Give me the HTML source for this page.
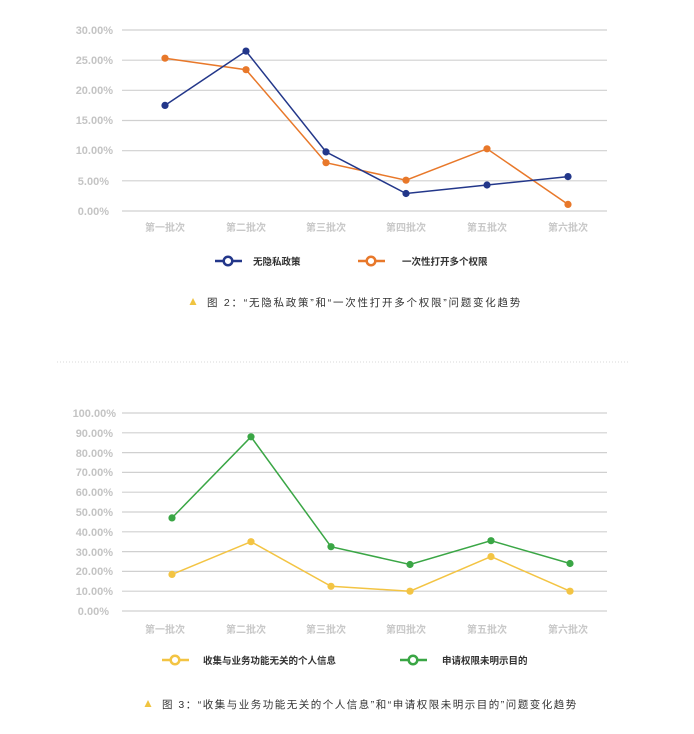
<!DOCTYPE html>
<html><head><meta charset="utf-8"><style>
html,body{margin:0;padding:0;background:#fff;}
svg{display:block;font-family:"Liberation Sans","Noto Sans CJK SC",sans-serif;}
</style></head><body>
<svg width="694" height="734" viewBox="0 0 694 734" xmlns="http://www.w3.org/2000/svg">
<g stroke="#d0d0d0" stroke-width="1.2">
<line x1="122" y1="30" x2="607" y2="30"/><line x1="122" y1="60.2" x2="607" y2="60.2"/>
<line x1="122" y1="90.3" x2="607" y2="90.3"/><line x1="122" y1="120.5" x2="607" y2="120.5"/>
<line x1="122" y1="150.7" x2="607" y2="150.7"/><line x1="122" y1="180.8" x2="607" y2="180.8"/>
<line x1="122" y1="211" x2="607" y2="211"/>
</g>
<g font-size="11" font-weight="bold" fill="#c4c4c4" text-anchor="end">
<text x="113" y="34">30.00%</text><text x="113" y="64">25.00%</text><text x="113" y="94">20.00%</text>
<text x="113" y="124">15.00%</text><text x="113" y="154">10.00%</text><text x="109" y="185">5.00%</text>
<text x="109" y="215">0.00%</text>
</g>
<g font-size="10" font-weight="bold" fill="#c8c8c8" text-anchor="middle">
<text x="165" y="231">第一批次</text><text x="246" y="231">第二批次</text><text x="326" y="231">第三批次</text>
<text x="406" y="231">第四批次</text><text x="487" y="231">第五批次</text><text x="568" y="231">第六批次</text>
</g>
<polyline fill="none" stroke="#e8782a" stroke-width="1.5" points="165,58.2 246,69.7 326,162.7 406,180.2 487,148.8 568,204.4"/>
<polyline fill="none" stroke="#23378a" stroke-width="1.5" points="165,105.4 246,51.1 326,151.9 406,193.5 487,185 568,176.6"/>
<g fill="#e8782a"><circle cx="165" cy="58.2" r="3.6"/><circle cx="246" cy="69.7" r="3.6"/><circle cx="326" cy="162.7" r="3.6"/><circle cx="406" cy="180.2" r="3.6"/><circle cx="487" cy="148.8" r="3.6"/><circle cx="568" cy="204.4" r="3.6"/></g>
<g fill="#23378a"><circle cx="165" cy="105.4" r="3.6"/><circle cx="246" cy="51.1" r="3.6"/><circle cx="326" cy="151.9" r="3.6"/><circle cx="406" cy="193.5" r="3.6"/><circle cx="487" cy="185" r="3.6"/><circle cx="568" cy="176.6" r="3.6"/></g>
<line x1="215" y1="261" x2="242" y2="261" stroke="#23378a" stroke-width="2.5"/>
<circle cx="228" cy="261" r="4.3" fill="#fff" stroke="#23378a" stroke-width="2.5"/>
<text x="253" y="265" font-size="9.5" font-weight="bold" fill="#333">无隐私政策</text>
<line x1="358" y1="261" x2="385" y2="261" stroke="#e8782a" stroke-width="2.5"/>
<circle cx="371" cy="261" r="4.3" fill="#fff" stroke="#e8782a" stroke-width="2.5"/>
<text x="402" y="265" font-size="9.5" font-weight="bold" fill="#333">一次性打开多个权限</text>
<polygon points="193,298 189.5,305 196.5,305" fill="#f0c440"/>
<text x="207" y="306" font-size="10.5" fill="#333" letter-spacing="1.75">图 2：“无隐私政策”和“一次性打开多个权限”问题变化趋势</text>

<line x1="57" y1="362" x2="630" y2="362" stroke="#d8d8d8" stroke-width="1" stroke-dasharray="1,2"/>

<g stroke="#d0d0d0" stroke-width="1.2">
<line x1="122" y1="413" x2="607" y2="413"/><line x1="122" y1="432.8" x2="607" y2="432.8"/>
<line x1="122" y1="452.6" x2="607" y2="452.6"/><line x1="122" y1="472.4" x2="607" y2="472.4"/>
<line x1="122" y1="492.2" x2="607" y2="492.2"/><line x1="122" y1="512" x2="607" y2="512"/>
<line x1="122" y1="531.8" x2="607" y2="531.8"/><line x1="122" y1="551.6" x2="607" y2="551.6"/>
<line x1="122" y1="571.4" x2="607" y2="571.4"/><line x1="122" y1="591.2" x2="607" y2="591.2"/>
<line x1="122" y1="611" x2="607" y2="611"/>
</g>
<g font-size="11" font-weight="bold" fill="#c4c4c4" text-anchor="end">
<text x="116" y="417">100.00%</text><text x="113" y="437">90.00%</text><text x="113" y="457">80.00%</text>
<text x="113" y="476">70.00%</text><text x="113" y="496">60.00%</text><text x="113" y="516">50.00%</text>
<text x="113" y="536">40.00%</text><text x="113" y="556">30.00%</text><text x="113" y="575">20.00%</text>
<text x="113" y="595">10.00%</text><text x="109" y="615">0.00%</text>
</g>
<g font-size="10" font-weight="bold" fill="#c8c8c8" text-anchor="middle">
<text x="165" y="633">第一批次</text><text x="246" y="633">第二批次</text><text x="326" y="633">第三批次</text>
<text x="406" y="633">第四批次</text><text x="487" y="633">第五批次</text><text x="568" y="633">第六批次</text>
</g>
<polyline fill="none" stroke="#f3c443" stroke-width="1.5" points="172,574.4 251,541.7 331,586.3 410,591.2 491,556.6 570,591.2"/>
<polyline fill="none" stroke="#3aa645" stroke-width="1.5" points="172,517.9 251,436.8 331,546.7 410,564.5 491,540.7 570,563.5"/>
<g fill="#f3c443"><circle cx="172" cy="574.4" r="3.6"/><circle cx="251" cy="541.7" r="3.6"/><circle cx="331" cy="586.3" r="3.6"/><circle cx="410" cy="591.2" r="3.6"/><circle cx="491" cy="556.6" r="3.6"/><circle cx="570" cy="591.2" r="3.6"/></g>
<g fill="#3aa645"><circle cx="172" cy="517.9" r="3.6"/><circle cx="251" cy="436.8" r="3.6"/><circle cx="331" cy="546.7" r="3.6"/><circle cx="410" cy="564.5" r="3.6"/><circle cx="491" cy="540.7" r="3.6"/><circle cx="570" cy="563.5" r="3.6"/></g>
<line x1="162" y1="660" x2="189" y2="660" stroke="#f3c443" stroke-width="2.5"/>
<circle cx="175" cy="660" r="4.3" fill="#fff" stroke="#f3c443" stroke-width="2.5"/>
<text x="203" y="664" font-size="9.5" font-weight="bold" fill="#333">收集与业务功能无关的个人信息</text>
<line x1="400" y1="660" x2="427" y2="660" stroke="#3aa645" stroke-width="2.5"/>
<circle cx="413" cy="660" r="4.3" fill="#fff" stroke="#3aa645" stroke-width="2.5"/>
<text x="442" y="664" font-size="9.5" font-weight="bold" fill="#333">申请权限未明示目的</text>
<polygon points="148,700 144.5,707 151.5,707" fill="#f0c440"/>
<text x="162" y="708" font-size="10.5" fill="#333" letter-spacing="1.5">图 3：“收集与业务功能无关的个人信息”和“申请权限未明示目的”问题变化趋势</text>
</svg>
</body></html>
